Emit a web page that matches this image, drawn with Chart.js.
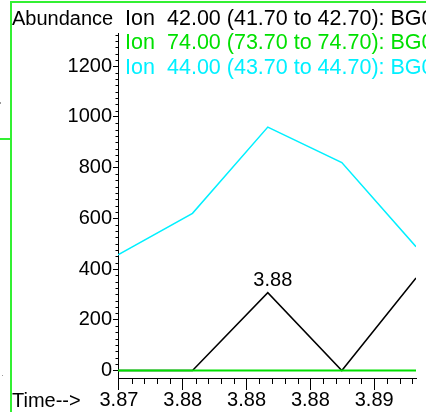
<!DOCTYPE html>
<html>
<head>
<meta charset="utf-8">
<script src="https://cdn.jsdelivr.net/npm/chart.js@4.4.1/dist/chart.umd.min.js"></script>
<style>
  html, body { margin: 0; padding: 0; background: #fff; }
  canvas { display: block; }
</style>
</head>
<body>
<canvas id="tic" width="426" height="412"></canvas>
<script>
// retention times of the scans (min)
const times = [3.87194, 3.87661, 3.88133, 3.88597, 3.89062];
// abundances per extracted ion
const ion42 = [0, 0, 307, 0, 365];
const ion74 = [0, 0, 0, 0, 0];
const ion44 = [456, 620, 960, 820, 488];
const ionLabels = [
  '42.00 (41.70 to 42.70): BG0',
  '74.00 (73.70 to 74.70): BG0',
  '44.00 (43.70 to 44.70): BG0'
];
const ionColors = ['#000000', '#00e000', '#00f0ff'];
// axis ticks
const xTicks = [3.872, 3.876, 3.880, 3.884, 3.888];
const xMinorStep = 0.0008;
const yTicks = [0, 200, 400, 600, 800, 1000, 1200];
const yMinorStep = 25;

const FAMILY = '"Liberation Sans", Arial, sans-serif';
const FONT = '20px ' + FAMILY;
const LEGEND_FONT = '21.5px ' + FAMILY;

// frame, axis titles, legend text, minor ticks, peak label
const decorPlugin = {
  id: 'decor',
  afterDraw(chart) {
    const ctx = chart.ctx;
    const xs = chart.scales.x;
    const ys = chart.scales.y;
    const area = chart.chartArea;
    ctx.save();

    // minor ticks
    ctx.strokeStyle = '#000';
    ctx.lineWidth = 1;
    ctx.beginPath();
    for (let v = yMinorStep; v < ys.max; v += yMinorStep) {
      if (yTicks.includes(v)) continue;
      const py = Math.round(ys.getPixelForValue(v)) + 0.5;
      ctx.moveTo(area.left - 2.5, py);
      ctx.lineTo(area.left, py);
    }
    for (let k = 1; ; k++) {
      const v = xTicks[0] + k * xMinorStep;
      if (v > xs.max) break;
      if (k % 5 === 0) continue;
      const px = Math.round(xs.getPixelForValue(v)) + 0.5;
      ctx.moveTo(px, area.bottom);
      ctx.lineTo(px, area.bottom + 6);
    }
    ctx.stroke();

    // axis titles
    ctx.font = FONT;
    ctx.textBaseline = 'alphabetic';
    ctx.textAlign = 'left';
    ctx.fillStyle = '#000';
    ctx.fillText('Abundance', 12, 25);
    ctx.fillText('Time-->', 12, 407);

    // ion legend (runs off the right edge like the original)
    ctx.font = LEGEND_FONT;
    const baselines = [25, 49, 74];
    ionLabels.forEach((lab, i) => {
      ctx.fillStyle = ionColors[i];
      ctx.fillText('Ion', 125, baselines[i]);
      ctx.fillText(lab, 167, baselines[i]);
    });

    // peak label on the black trace
    ctx.font = FONT;
    const meta = chart.getDatasetMeta(0);
    let best = 0;
    ion42.forEach((v, i) => { if (v > ion42[best] && i < ion42.length - 1) best = i; });
    const pt = meta.data[best];
    ctx.fillStyle = '#000';
    ctx.textAlign = 'center';
    ctx.fillText(times[best].toFixed(2), pt.x + 5, pt.y - 7);

    // green window frame
    ctx.strokeStyle = '#33f033';
    ctx.lineWidth = 2;
    ctx.beginPath();
    ctx.moveTo(11, 412);
    ctx.lineTo(11, 2);
    ctx.lineTo(426, 2);
    ctx.moveTo(0, 139);
    ctx.lineTo(11, 139);
    ctx.stroke();
    ctx.fillStyle = '#999';
    ctx.fillRect(0, 102, 1, 2);
    ctx.fillRect(2, 375, 1, 1);
    ctx.restore();
  }
};

new Chart(document.getElementById('tic'), {
  type: 'line',
  data: {
    datasets: [
      { label: 'Ion 42', data: times.map((t, i) => ({ x: t, y: ion42[i] })), borderColor: ionColors[0], borderWidth: 1.5, order: 1 },
      { label: 'Ion 74', data: times.map((t, i) => ({ x: t, y: ion74[i] })), borderColor: ionColors[1], borderWidth: 2, order: 0 },
      { label: 'Ion 44', data: times.map((t, i) => ({ x: t, y: ion44[i] })), borderColor: ionColors[2], borderWidth: 1.5, order: 2 }
    ]
  },
  options: {
    responsive: false,
    animation: false,
    devicePixelRatio: 1,
    layout: { padding: { top: 33, right: 10, bottom: 0, left: 0 } },
    elements: { point: { radius: 0 }, line: { tension: 0 } },
    plugins: { legend: { display: false }, tooltip: { enabled: false } },
    scales: {
      x: {
        type: 'linear',
        min: times[0],
        max: times[times.length - 1],
        afterBuildTicks: s => { s.ticks = xTicks.map(v => ({ value: v })); },
        afterFit: s => { s.height = 34; },
        grid: { drawOnChartArea: false, tickLength: 12, color: '#000' },
        border: { color: '#000' },
        ticks: {
          autoSkip: false, maxRotation: 0, padding: -2,
          color: '#000',
          font: { family: FAMILY, size: 20 },
          callback: v => v.toFixed(2)
        }
      },
      y: {
        min: -29.6,
        max: 1331,
        afterBuildTicks: s => { s.ticks = yTicks.map(v => ({ value: v })); },
        afterFit: s => { s.width = 118; },
        grid: { drawOnChartArea: false, tickLength: 5, color: '#000' },
        border: { color: '#000' },
        ticks: {
          padding: 1,
          color: '#000',
          font: { family: FAMILY, size: 20 },
          callback: v => String(v)
        }
      }
    }
  },
  plugins: [decorPlugin]
});
</script>
</body>
</html>
